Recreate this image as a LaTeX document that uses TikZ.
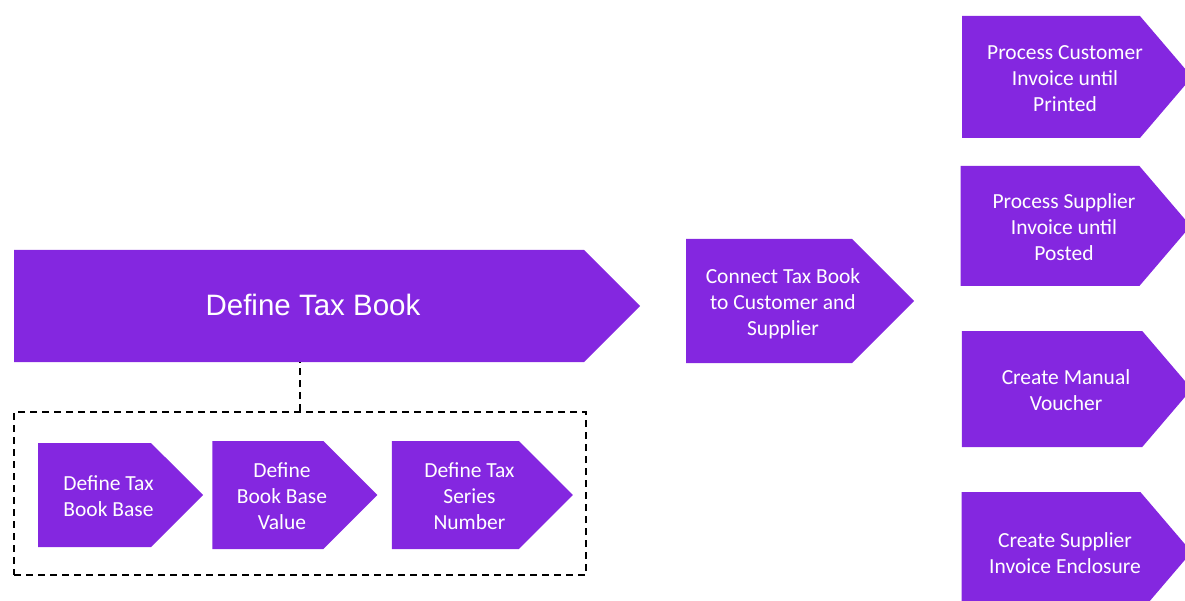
\documentclass[tikz,border=0pt]{standalone}
\usepackage{fontspec}
\setmainfont{Carlito}
\newfontfamily\arialfont{Liberation Sans}
\usetikzlibrary{shapes.symbols, positioning}
\definecolor{taxviolet}{HTML}{8427E0}
% text sits a little right of (and below) the body centre
\newcommand{\steplines}[1]{\hspace*{14pt}\raisebox{-3pt}[\height][\depth]{%
  \begin{tabular}{@{}c@{}}#1\end{tabular}}\hspace*{-14pt}}

\begin{document}
\begin{tikzpicture}[x=1pt, y=-1pt,
  chevron/.style={signal, signal to=east, signal pointer angle=90,
                  fill=taxviolet, draw=none, text=white,
                  inner sep=0pt, font=\fontsize{21.5}{26}\selectfont},
  grouping/.style={draw, line width=1.6pt, dash pattern=on 7pt off 5pt,
                   minimum width=572pt, minimum height=163pt, inner sep=0pt},
  link/.style={draw, line width=1.6pt, dash pattern=on 7pt off 5pt}
]
\useasboundingbox (0,0) rectangle (1185,601);

% main steps
\node[chevron, minimum width=626pt, minimum height=112pt,
      font=\arialfont\fontsize{29.5}{34}\selectfont] (book) at (299,306)
                    {\steplines{Define Tax Book}};
\node[chevron, minimum width=228pt, minimum height=124pt] (connect) at (769,301)
                    {\steplines{Connect Tax Book\\to Customer and\\Supplier}};

% follow-up processes
\node[chevron, signal pointer angle=99, minimum width=230pt, minimum height=122pt]
      (custinv) at (1051,77) {\steplines{Process Customer\\Invoice until\\Printed}};
\node[chevron, signal pointer angle=99, minimum width=230pt, minimum height=120pt]
      (suppinv) at (1050,226) {\steplines{Process Supplier\\Invoice until\\Posted}};
\node[chevron, signal pointer angle=99, minimum width=230pt, minimum height=116pt]
      (voucher) at (1052,389) {\steplines{Create Manual\\Voucher}};
\node[chevron, signal pointer angle=99, minimum width=230pt, minimum height=120pt]
      (enclosure) at (1051,552) {\steplines{Create Supplier\\Invoice Enclosure}};

% sub-steps of the tax book
\node[grouping] (group) at (300,493.5) {};
\node[chevron, minimum width=165pt, minimum height=104pt] (base) at (94.5,495)
                    {\steplines{Define Tax\\Book Base}};
\node[chevron, minimum width=165pt, minimum height=108pt, right=9pt of base]
      (basevalue) {\steplines{Define\\Book Base\\Value}};
\node[chevron, minimum width=181pt, minimum height=108pt, right=14pt of basevalue]
      (series) {\steplines{Define Tax\\Series\\Number}};

\draw[link] (group.north) -- (group.north |- book.south);
\end{tikzpicture}
\end{document}
